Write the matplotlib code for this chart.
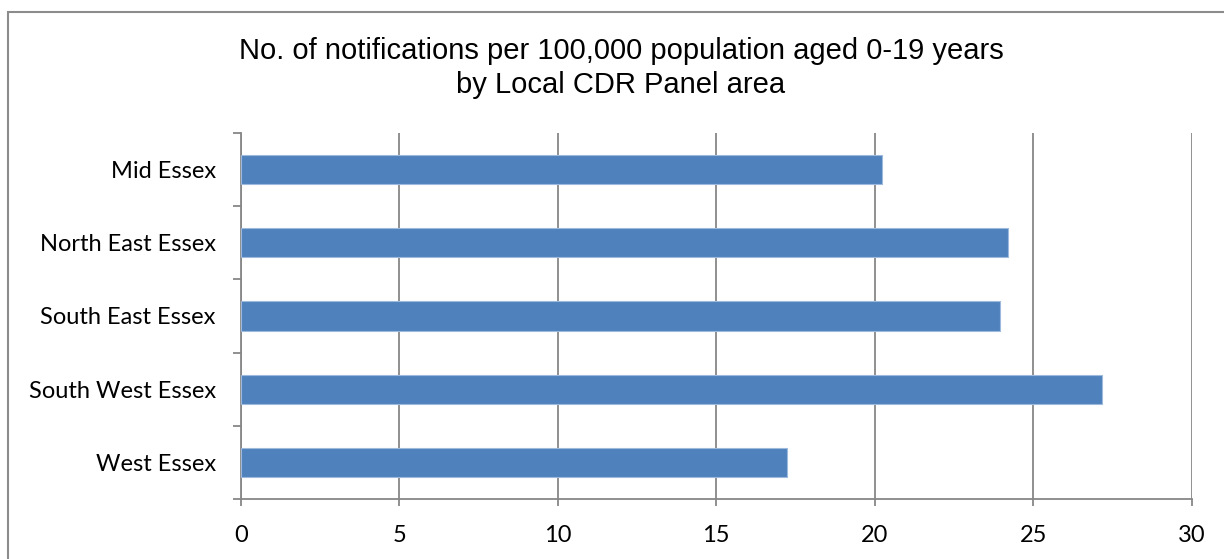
import matplotlib.pyplot as plt
from matplotlib.patches import Rectangle

areas = ['Mid Essex', 'North East Essex', 'South East Essex', 'South West Essex', 'West Essex']
rates = [20.24, 24.19, 23.96, 27.16, 17.23]
xticks = [0, 5, 10, 15, 20, 25, 30]

W, H = 1224, 559
fig = plt.figure(figsize=(W / 100, H / 100), dpi=100)
ax = fig.add_axes([240.7 / W, 1 - 499 / H, (1191.7 - 240.7) / W, (499 - 133) / H])

grey = '#878787'
pos = list(range(len(areas)))
ax.barh(pos, rates, height=0.4, color='#4F81BD', edgecolor='#9DB9DC', linewidth=0.8, zorder=3)

ax.set_xlim(0, 30)
ax.set_ylim(len(areas) - 0.5, -0.5)
ax.set_xticks(xticks)
ax.set_xticklabels([str(t) for t in xticks])
ax.set_yticks(pos)
ax.set_yticklabels(areas)
ax.set_yticks([p - 0.5 for p in pos] + [len(areas) - 0.5], minor=True)

ax.tick_params(axis='y', which='major', length=0, pad=18)
ax.tick_params(axis='y', which='minor', length=5.5, width=1.3, color=grey, direction='out')
ax.tick_params(axis='x', length=5, width=1.3, color=grey, direction='out', pad=14)
for lbl in ax.get_yticklabels() + ax.get_xticklabels():
    lbl.set_fontfamily('Lato')
    lbl.set_fontsize(17)

ax.grid(axis='x', color=grey, linewidth=1.3, zorder=0)
for side in ['top', 'right']:
    ax.spines[side].set_visible(False)
for side in ['left', 'bottom']:
    ax.spines[side].set_color(grey)
    ax.spines[side].set_linewidth(1.3)

fig.text(621 / W, 1 - 68 / H,
         'No. of notifications per 100,000 population aged 0-19 years\nby Local CDR Panel area',
         ha='center', va='center', fontsize=21, family='Liberation Sans', linespacing=1.3)

# chart area frame, running off the right and bottom edges
fig.patches.append(Rectangle((8 / W, -0.1), 1.2, 1 - 12 / H + 0.1, transform=fig.transFigure,
                             fill=False, edgecolor='#8C8C8C', linewidth=1.5))

fig.savefig('out.png', dpi=100)
